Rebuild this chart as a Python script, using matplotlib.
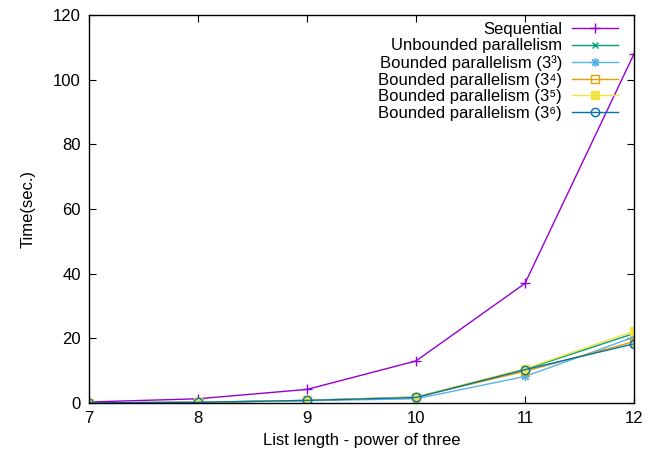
import matplotlib
matplotlib.use('Agg')
import matplotlib.pyplot as plt

# list length as power of three
x = [7, 8, 9, 10, 11, 12]

sequential = [0.3, 1.3, 4.2, 13.0, 37.0, 108.0]
unbounded = [0.05, 0.2, 0.8, 1.8, 10.4, 21.5]
bounded_3 = [0.05, 0.2, 0.7, 1.3, 8.2, 20.4]
bounded_4 = [0.05, 0.2, 0.8, 1.8, 9.8, 19.0]
bounded_5 = [0.05, 0.2, 0.8, 1.9, 10.6, 22.2]
bounded_6 = [0.05, 0.2, 0.8, 1.7, 10.3, 18.3]

labels = ['Sequential', 'Unbounded parallelism',
          'Bounded parallelism (3\u00b3)', 'Bounded parallelism (3\u2074)',
          'Bounded parallelism (3\u2075)', 'Bounded parallelism (3\u2076)']

plt.rcParams['font.family'] = ['Liberation Sans', 'DejaVu Sans']

fig = plt.figure(figsize=(6.6, 4.57), dpi=100)
ax = fig.add_axes([0.1348, 0.1182, 0.8258, 0.8488])

ax.plot(x, sequential, color='#9400D3', marker='+', markersize=7, lw=1, label=labels[0])
ax.plot(x, unbounded, color='#009E73', marker='x', markersize=5, lw=1, label=labels[1])
ax.plot(x, bounded_3, color='#56B4E9', marker=(8, 2, 0), markersize=6, lw=1, label=labels[2])
ax.plot(x, bounded_4, color='#E69F00', marker='s', mfc='none', markersize=6, lw=1, label=labels[3])
ax.plot(x, bounded_5, color='#F0E442', marker='s', markersize=6, lw=1, label=labels[4])
ax.plot(x, bounded_6, color='#0072B2', marker='o', mfc='none', markersize=6, lw=1, label=labels[5])

ax.set_xlim(7, 12)
ax.set_ylim(0, 120)
ax.set_xticks(x)
ax.set_yticks(range(0, 121, 20))
ax.tick_params(direction='in', top=True, right=True, labelsize=12, length=5, pad=6)
for s in ax.spines.values():
    s.set_linewidth(1)

ax.set_xlabel('List length - power of three', fontsize=12, labelpad=5)
ax.set_ylabel('Time(sec.)', fontsize=12, labelpad=12)

ax.legend(loc='upper right', bbox_to_anchor=(0.9706, 0.983), markerfirst=False,
          frameon=False, fontsize=12, handlelength=2.76, labelspacing=0.1,
          borderpad=0, borderaxespad=0, handletextpad=0.6)

fig.savefig('out.png', dpi=100)
